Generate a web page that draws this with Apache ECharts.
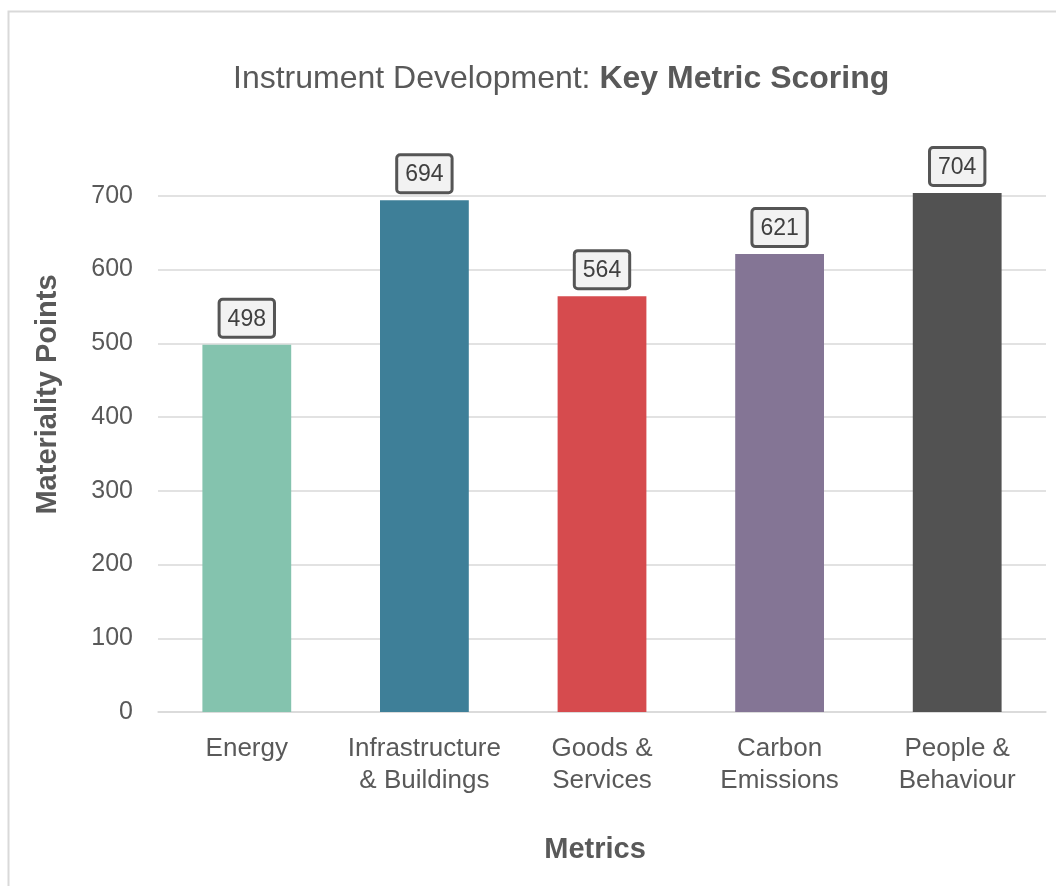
<!DOCTYPE html>
<html>
<head>
<meta charset="utf-8">
<script src="https://cdn.jsdelivr.net/npm/echarts@6/dist/echarts.min.js"></script>
<style>
  html, body { margin: 0; padding: 0; background: #fff; }
  #chart { width: 1056px; height: 886px; }
</style>
</head>
<body>
<div id="chart"></div>
<script>
// Metric categories and their scores
const categories = ['Energy', 'Infrastructure\n& Buildings', 'Goods &\nServices', 'Carbon\nEmissions', 'People &\nBehaviour'];
const scores = [498, 694, 564, 621, 704];
const yTicks = [0, 100, 200, 300, 400, 500, 600, 700];

// One fill per metric
const palette = ['#84c3ae', '#3e7f98', '#d64b4e', '#847595', '#525252'];

const fontFamily = '"Liberation Sans", Arial, sans-serif';
const textGrey = '#595959';
const lineGrey = '#d9d9d9';

const chart = echarts.init(document.getElementById('chart'), null, { renderer: 'canvas' });

chart.setOption({
  backgroundColor: '#ffffff',
  animation: false,
  textStyle: { fontFamily: fontFamily },
  graphic: [{
    type: 'rect',
    silent: true,
    z: -1,
    shape: { x: 8.5, y: 11.5, width: 1100, height: 900 },
    style: { fill: 'none', stroke: lineGrey, lineWidth: 2 }
  }],
  title: {
    left: 233,
    top: 63,
    padding: 0,
    text: '{a|Instrument Development: }{b|Key Metric Scoring}',
    textStyle: {
      rich: {
        a: { fontFamily: fontFamily, fontSize: 32, color: textGrey, fontWeight: 'normal' },
        b: { fontFamily: fontFamily, fontSize: 32, color: textGrey, fontWeight: 'bold' }
      }
    }
  },
  grid: { left: 158, right: 10, top: 159, bottom: 174, containLabel: false },
  xAxis: {
    type: 'category',
    data: categories,
    name: 'Metrics',
    nameLocation: 'middle',
    nameGap: 123,
    nameTextStyle: { fontFamily: fontFamily, fontSize: 29, fontWeight: 'bold', color: textGrey, padding: [0, 14, 0, 0] },
    axisLine: { show: true, lineStyle: { color: lineGrey, width: 1.5 } },
    axisTick: { show: false },
    axisLabel: { fontFamily: fontFamily, fontSize: 26, color: textGrey, lineHeight: 32, margin: 21, interval: 0 }
  },
  yAxis: {
    type: 'value',
    min: yTicks[0],
    max: 750,
    interval: yTicks[1] - yTicks[0],
    name: 'Materiality Points',
    nameLocation: 'middle',
    nameGap: 96,
    nameTextStyle: { fontFamily: fontFamily, fontSize: 29, fontWeight: 'bold', color: textGrey, padding: [0, 0, 0, 82] },
    axisLine: { show: false },
    axisTick: { show: false },
    axisLabel: {
      fontFamily: fontFamily, fontSize: 25, color: textGrey, margin: 25,
      showMaxLabel: false,
      formatter: function (v) { return yTicks.indexOf(v) >= 0 ? String(v) : ''; }
    },
    splitLine: { show: true, showMaxLine: false, lineStyle: { color: lineGrey, width: 1.5 } }
  },
  series: [{
    type: 'bar',
    barWidth: '50%',
    data: scores.map(function (v, i) {
      return { value: v, itemStyle: { color: palette[i] } };
    }),
    label: {
      show: true,
      position: 'top',
      distance: 9,
      fontFamily: fontFamily,
      fontSize: 23,
      color: '#404040',
      backgroundColor: '#f2f2f2',
      borderColor: '#555555',
      borderWidth: 3,
      borderRadius: 2,
      padding: [7, 7, 5, 7]
    }
  }]
});
</script>
</body>
</html>
